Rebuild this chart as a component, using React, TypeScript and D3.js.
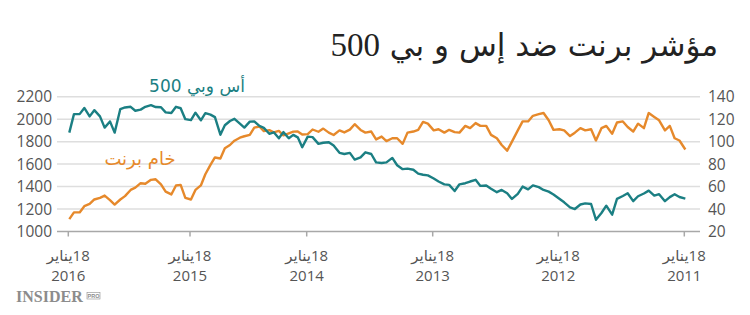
import React from "react";
import * as d3 from "d3";

const titleArabic = "مؤشر برنت ضد إس و بي ";
const titleNumber = "500";
const spxLabel = "أس وبي 500";
const brentLabel = "خام برنت";
const tickYears = [2016, 2015, 2014, 2013, 2012, 2011];
const tickLine1 = "18يناير";
const leftTicks = [1000, 1200, 1400, 1600, 1800, 2000, 2200];
const rightTicks = [20, 40, 60, 80, 100, 120, 140];

// S&P 500, semi-monthly (1st & 15th), 2011-01-15 .. 2016-01-15
const spx2011 = [1293, 1307, 1332, 1306, 1270, 1332, 1320, 1364, 1338, 1314, 1270, 1340, 1316, 1290, 1150, 1230, 1165, 1105, 1245, 1250, 1240, 1200, 1215];
const spx2012 = [1260, 1292, 1330, 1355, 1370, 1395, 1410, 1375, 1400, 1335, 1290, 1340, 1370, 1350, 1380, 1410, 1406, 1460, 1445, 1430, 1420, 1360, 1415, 1420];
const spx2013 = [1445, 1472, 1500, 1505, 1515, 1550, 1560, 1555, 1590, 1655, 1615, 1610, 1615, 1690, 1705, 1660, 1640, 1700, 1690, 1700, 1765, 1795, 1790, 1780];
const spx2014 = [1840, 1845, 1750, 1838, 1860, 1830, 1885, 1830, 1883, 1870, 1923, 1940, 1980, 1978, 1925, 1960, 2003, 1984, 1946, 1862, 2018, 2040, 2053, 1990];
const spx2015 = [2058, 1992, 2000, 2097, 2110, 2055, 2060, 2106, 2108, 2125, 2110, 2085, 2075, 2110, 2104, 2090, 1880, 1980, 1925, 2025, 2080, 2025, 2100, 2045];
const spx2016 = [2045, 1880];

// Brent crude (USD), same dates
const brent2011 = [93, 101, 103, 114, 110, 119, 122, 125.5, 112, 116, 109, 113, 118, 117, 107, 114, 112, 101, 111, 110, 112, 108, 105];
const brent2012 = [110, 111, 110.5, 119, 125.5, 124.5, 123, 118, 118, 110, 100, 92, 97, 103, 106, 114, 114, 116.5, 112, 114, 108, 108.5, 110.5, 108];
const brent2013 = [111, 110, 116, 117.5, 110.5, 109, 108, 98, 103, 103, 100.5, 104.5, 102, 109, 108, 110.4, 115.5, 110.7, 108.2, 110, 105.9, 108, 111.6, 108.8];
const brent2014 = [110.8, 106.7, 106.4, 109.1, 108.9, 107.4, 105.6, 109.6, 108.2, 110.2, 109.4, 113.5, 112.4, 106, 104.8, 103.5, 100.8, 97, 94.2, 85, 85.9, 79.3, 71, 61];
const brent2015 = [57, 48.5, 50, 61.5, 61, 53, 55.5, 62, 66.5, 66, 62.5, 63, 59, 57, 51.5, 48.5, 44, 48, 52, 50, 48.5, 44.5, 42.5, 37];
const brent2016 = [37, 31];

const spx = [...spx2011, ...spx2012, ...spx2013, ...spx2014, ...spx2015, ...spx2016];
const brent = [...brent2011, ...brent2012, ...brent2013, ...brent2014, ...brent2015, ...brent2016];

function buildDates(): Date[] {
  const out: Date[] = [];
  const start = new Date(2011, 0, 15);
  const end = new Date(2016, 0, 15);
  for (let y = 2011; y <= 2016; y++) {
    for (let m = 0; m < 12; m++) {
      for (const d of [1, 15]) {
        const dt = new Date(y, m, d);
        if (dt >= start && dt <= end) out.push(dt);
      }
    }
  }
  return out;
}

const TEAL = "#1b7f83";
const ORANGE = "#e6892b";
const AXIS_TEXT = "#555";
const NUM_FONT = "'Open Sans', 'DejaVu Sans', sans-serif";
const AR_FONT = "'DejaVu Sans', sans-serif";

export default function App() {
  const W = 750, H = 315;
  const dates = buildDates();
  const x = d3
    .scaleTime()
    .domain(tickYears.map((y) => new Date(y, 0, 18)))
    .range([68.3, 190, 306.7, 432.7, 558.3, 684.3]);
  const yL = d3.scaleLinear().domain([1000, 2200]).range([231.5, 96.7]);
  const yR = d3.scaleLinear().domain([20, 140]).range([231.5, 96.7]);
  const gx0 = 57, gx1 = 700;

  const lineSpx = d3
    .line<number>()
    .x((_, i) => x(dates[i]))
    .y((d) => yL(d));
  const lineBrent = d3
    .line<number>()
    .x((_, i) => x(dates[i]))
    .y((d) => yR(d));

  return (
    <svg
      width={W}
      height={H}
      style={{ position: "absolute", left: 0, top: 0, background: "#fff" }}
    >
      <rect width={W} height={H} fill="#fff" />
      <text
        x={718}
        y={56}
        textAnchor="start"
        direction="rtl"
        fontFamily={AR_FONT}
        fontSize={31}
        fill="#222"
      >
        {titleArabic}
        <tspan fontFamily={"'Liberation Serif', serif"} fontSize={33}>{titleNumber}</tspan>
      </text>

      {leftTicks.slice(1).map((v) => (
        <line key={v} x1={gx0} x2={gx1} y1={yL(v)} y2={yL(v)} stroke="#dedede" strokeWidth={1.5} />
      ))}
      <line x1={gx0} x2={gx1} y1={yL(1000)} y2={yL(1000)} stroke="#a8a8a8" strokeWidth={1.5} />
      {tickYears.map((yr) => {
        const tx = x(new Date(yr, 0, 18));
        return (
          <g key={yr}>
            <line x1={tx} x2={tx} y1={yL(1000)} y2={yL(1000) + 5} stroke="#a8a8a8" strokeWidth={1.5} />
            <text
              x={tx}
              y={261}
              textAnchor="middle"
              direction="rtl"
              fontFamily={NUM_FONT}
              fontSize={15}
              fill={AXIS_TEXT}
            >
              {tickLine1}
            </text>
            <text x={tx} y={281} textAnchor="middle" fontFamily={NUM_FONT} fontSize={15} fill={AXIS_TEXT}>
              {yr}
            </text>
          </g>
        );
      })}

      {leftTicks.map((v) => (
        <text key={v} x={52} y={yL(v) + 5.5} textAnchor="end" fontFamily={NUM_FONT} fontSize={15.5} fill={AXIS_TEXT}>
          {v}
        </text>
      ))}
      {rightTicks.map((v) => (
        <text key={v} x={708} y={yR(v) + 5.5} textAnchor="start" fontFamily={NUM_FONT} fontSize={15.5} fill={AXIS_TEXT}>
          {v}
        </text>
      ))}

      <path d={lineBrent(brent) || ""} fill="none" stroke={ORANGE} strokeWidth={2.4} strokeLinejoin="round" />
      <path d={lineSpx(spx) || ""} fill="none" stroke={TEAL} strokeWidth={2.4} strokeLinejoin="round" />

      <text x={197} y={92} textAnchor="middle" direction="rtl" fontFamily={AR_FONT} fontSize={17} fill={TEAL}>
        {spxLabel}
      </text>
      <text x={140} y={165} textAnchor="middle" direction="rtl" fontFamily={AR_FONT} fontSize={18} fill={ORANGE}>
        {brentLabel}
      </text>

      <g fill="#8c8c8c">
        <text x={16} y={302} fontFamily={"'Liberation Serif', serif"} fontWeight="bold" fontSize={16}>
          INSIDER
        </text>
        <rect x={87} y={292.5} width={13} height={6.5} fill="none" stroke="#8c8c8c" strokeWidth={0.6} />
        <text x={93.5} y={297.8} textAnchor="middle" fontFamily={"'Liberation Sans', sans-serif"} fontSize={5.5} fontWeight="bold">
          PRO
        </text>
      </g>
    </svg>
  );
}
